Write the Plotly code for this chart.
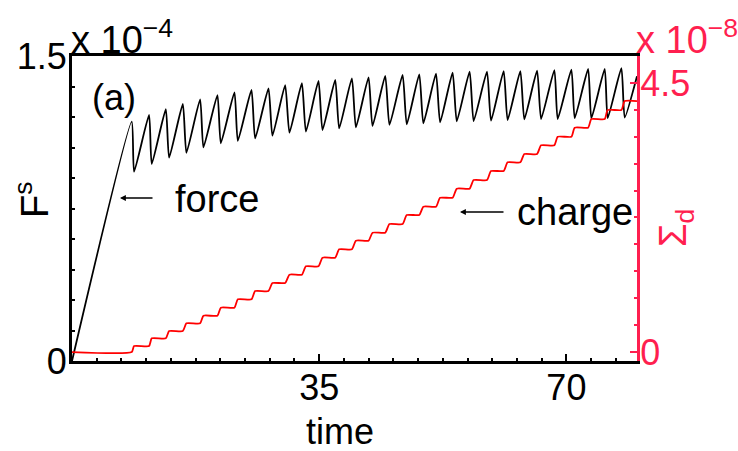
import plotly.graph_objects as go

# ---- data (force in units of 1e-4, charge in units of 1e-8) ----
peak_time = [8.46, 10.91, 13.28, 15.69, 18.14, 20.59, 23.00, 25.41, 27.82, 30.18,
             32.55, 34.90, 37.27, 39.63, 41.99, 44.35, 46.81, 49.17, 51.54, 53.89,
             56.30, 58.76, 61.12, 63.48, 65.85, 68.30, 70.71, 73.08, 75.43, 77.79]
peak_force = [1.177, 1.210, 1.238, 1.264, 1.287, 1.308, 1.321, 1.333, 1.341, 1.357,
              1.366, 1.377, 1.382, 1.390, 1.395, 1.402, 1.407, 1.410, 1.413, 1.418,
              1.423, 1.423, 1.426, 1.426, 1.428, 1.431, 1.433, 1.436, 1.436, 1.440]
trough_time = [8.79, 11.29, 13.75, 16.20, 18.61, 21.07, 23.48, 25.93, 28.38, 30.79,
               33.12, 35.47, 37.83, 40.20, 42.55, 44.95, 47.40, 49.75, 52.12, 54.48,
               56.87, 59.33, 61.68, 64.05, 66.42, 68.77, 71.18, 73.54, 75.85, 78.26]
trough_force = [0.931, 0.969, 1.000, 1.024, 1.051, 1.071, 1.083, 1.095, 1.108, 1.123,
                1.128, 1.136, 1.144, 1.149, 1.156, 1.161, 1.164, 1.169, 1.174, 1.179,
                1.180, 1.182, 1.185, 1.189, 1.190, 1.190, 1.194, 1.194, 1.194, 1.197]
start_point = (0.0, 0.0)
end_point = (80.0, 1.40)

charge_levels = [0.0, 0.100, 0.229, 0.351, 0.480, 0.607, 0.741, 0.881, 1.020, 1.154,
                 1.293, 1.433, 1.577, 1.717, 1.861, 1.995, 2.140, 2.291, 2.430, 2.580,
                 2.731, 2.876, 3.027, 3.172, 3.311, 3.457, 3.600, 3.751, 3.896, 4.047, 4.197]

x_ticks = [35, 70]
y_ticks = [0, 1.5]
y_ticktext = ["0", "1.5"]
y2_ticks = [0, 4.5]
y2_ticktext = ["0", "4.5"]

# ---- build polylines ----
fx, fy = [start_point[0]], [start_point[1]]
for pt, pf, tt, tf in zip(peak_time, peak_force, trough_time, trough_force):
    fx += [pt, tt]
    fy += [pf, tf]
fx.append(end_point[0]); fy.append(end_point[1])

cx, cy = [0.0], [charge_levels[0]]
for i, (pt, tt) in enumerate(zip(peak_time, trough_time)):
    cx += [pt, tt]
    cy += [charge_levels[i], charge_levels[i + 1]]
cx.append(80.0); cy.append(charge_levels[-1])

RED_AX = "#ff1f4f"
FONT = "Liberation Sans, Arial, sans-serif"
FS_TICK = 36
FS_LBL = 38

fig = go.Figure()
fig.add_trace(go.Scatter(x=fx, y=fy, mode="lines",
                         line=dict(color="black", width=1.8, shape="spline", smoothing=0.5),
                         yaxis="y", showlegend=False, hoverinfo="skip"))
fig.add_trace(go.Scatter(x=cx, y=cy, mode="lines",
                         line=dict(color="#ff0000", width=1.8, shape="spline", smoothing=0.5),
                         yaxis="y2", showlegend=False, hoverinfo="skip"))

fig.update_layout(
    width=738, height=451,
    margin=dict(l=72, r=101, t=56, b=90),
    paper_bgcolor="white", plot_bgcolor="white",
    font=dict(family=FONT, size=FS_TICK, color="black"),
    xaxis=dict(range=[0, 80], tickvals=x_ticks, ticks="inside", ticklen=7, tickwidth=2,
               tickcolor="black", showline=True, linewidth=3, linecolor="black",
               mirror=True, showgrid=False, zeroline=False, ticklabelstandoff=-7,
               minor=dict(dtick=3.5, tick0=0, ticks="inside", ticklen=3, tickwidth=2, tickcolor="black"),
               tickfont=dict(size=FS_TICK)),
    yaxis=dict(range=[0, 1.5], tickvals=y_ticks, ticktext=y_ticktext, ticks="inside",
               ticklen=7, tickwidth=2, tickcolor="black", showline=True, linewidth=3,
               linecolor="black", showgrid=False, zeroline=False, ticklabelstandoff=-5,
               minor=dict(dtick=0.15, tick0=0, ticks="inside", ticklen=3, tickwidth=2, tickcolor="black"),
               tickfont=dict(size=FS_TICK)),
    yaxis2=dict(range=[-0.15, 4.95], overlaying="y", side="right", tickvals=y2_ticks,
                ticktext=y2_ticktext, ticks="inside", ticklen=7, tickwidth=2, tickcolor=RED_AX,
                showline=True, linewidth=3, linecolor=RED_AX, showgrid=False, zeroline=False,
                ticklabelstandoff=-7,
                minor=dict(dtick=0.45, tick0=0, ticks="inside", ticklen=3, tickwidth=2, tickcolor=RED_AX),
                tickfont=dict(size=FS_TICK, color=RED_AX)),
)


def px_x(v):
    return (v - 72) / (637 - 72)


def px_y(v):
    return (361 - v) / (361 - 56)


ann = [
    dict(text="x 10<sup>−4</sup>", x=69, y=63, xanchor="left", yanchor="bottom",
         font=dict(size=FS_LBL, color="black")),
    dict(text="x 10<sup>−8</sup>", x=634, y=63, xanchor="left", yanchor="bottom",
         font=dict(size=FS_LBL, color=RED_AX)),
    dict(text="F<sup>s</sup>", x=32, y=200, textangle=-90, xanchor="center", yanchor="middle",
         font=dict(size=FS_LBL, color="black")),
    dict(text="Σ<sub>d</sub>", x=676, y=228, textangle=-90, xanchor="center", yanchor="middle",
         font=dict(size=FS_LBL, color=RED_AX)),
    dict(text="(a)", x=114, y=98, xanchor="center", yanchor="middle", font=dict(size=FS_TICK)),
    dict(text="force", x=173, y=199, xanchor="left", yanchor="middle", font=dict(size=FS_LBL)),
    dict(text="charge", x=515, y=212, xanchor="left", yanchor="middle", font=dict(size=FS_LBL)),
    dict(text="time", x=340, y=431, xanchor="center", yanchor="middle", font=dict(size=36)),
]
for a in ann:
    a.update(xref="x domain", yref="y domain", showarrow=False)
    a["x"] = px_x(a["x"])
    a["y"] = px_y(a["y"])
    fig.add_annotation(**a)

# arrows
for (x0, x1, yy) in [(154, 120, 198), (505, 460, 212)]:
    fig.add_annotation(xref="x domain", yref="y domain",
                       x=px_x(x1), y=px_y(yy), ax=px_x(x0), ay=px_y(yy),
                       axref="x domain", ayref="y domain", text="", showarrow=True,
                       arrowhead=2, arrowsize=0.9, arrowwidth=1.3, arrowcolor="black")

fig.write_html("out.html")
